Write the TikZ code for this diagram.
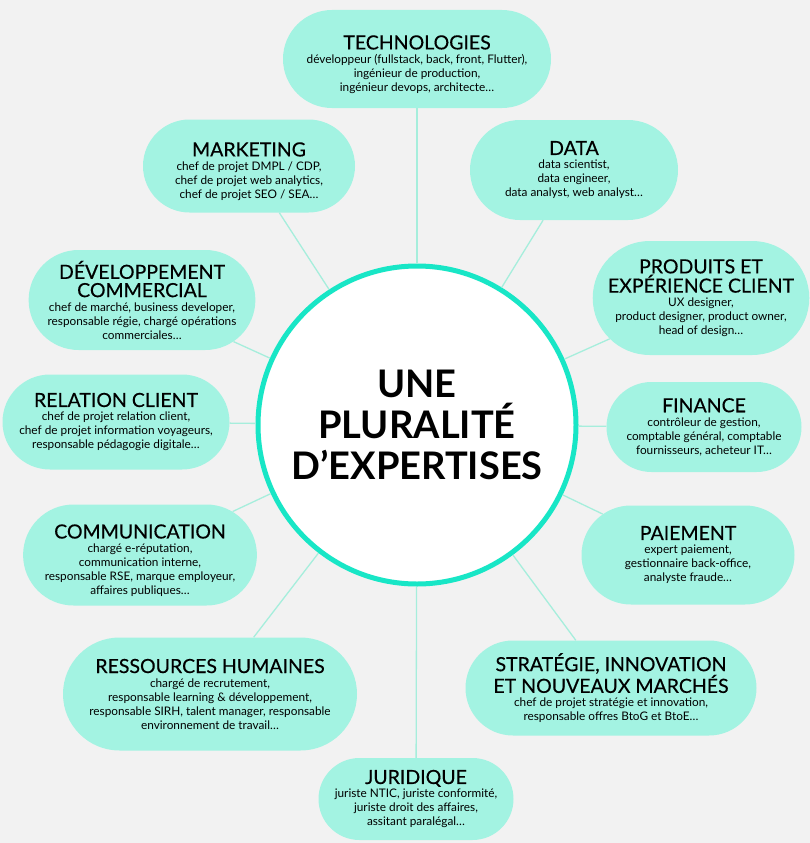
\documentclass[tikz,border=0pt]{standalone}
\usepackage{fontspec}
\setmainfont{Lato}
\newfontfamily\ttlfont[FakeBold=0.35]{Lato}
\usetikzlibrary{shapes.misc}
\definecolor{bg}{HTML}{F2F2F2}
\definecolor{mint}{HTML}{A3F3E2}
\definecolor{ring}{HTML}{18E6C6}
\definecolor{linkc}{HTML}{A6EEDC}
\newcommand\ttl[1]{{\ttlfont\fontsize{19.5}{20}\selectfont #1}}
\newcommand\upstrut{\rule{0pt}{25pt}}
\begin{document}
\begin{tikzpicture}[x=1pt,y=-1pt,
  pill/.style={rounded rectangle, fill=mint, inner sep=0pt, align=center,
    font=\fontsize{11.8}{14}\selectfont},
  linkline/.style={draw=linkc, line width=1.3pt}]
\fill[bg] (0,0) rectangle (810,843);
\useasboundingbox (0,0) rectangle (810,843);
\node[circle, draw=ring, line width=5pt, fill=white, minimum size=318pt, inner sep=0pt,
  align=center, font=\fontsize{38}{41}\selectfont\bfseries] (c) at (417,425)
  {UNE\\PLURALITÉ\\D’EXPERTISES};
\node[pill, minimum width=268pt, minimum height=98pt] (tech) at (417,59)
  {\ttl{\upstrut TECHNOLOGIES}\\développeur (fullstack, back, front, Flutter),\\ingénieur de production,\\ingénieur devops, architecte…};
\node[pill, minimum width=212pt, minimum height=93pt] (mark) at (249,166)
  {\ttl{\upstrut MARKETING}\\chef de projet DMPL / CDP,\\chef de projet web analytics,\\chef de projet SEO / SEA…};
\node[pill, minimum width=208pt, minimum height=100pt] (data) at (574,170)
  {\ttl{DATA}\\data scientist,\\data engineer,\\data analyst, web analyst…};
\node[pill, minimum width=219pt, minimum height=100pt] (dev) at (142,300)
  {\ttl{DÉVELOPPEMENT}\\[3pt]\ttl{COMMERCIAL}\\chef de marché, business developer,\\responsable régie, chargé opérations\\commerciales…};
\node[pill, minimum width=210pt, minimum height=114pt] (prod) at (701,298)
  {\ttl{PRODUITS ET}\\\ttl{EXPÉRIENCE CLIENT}\\UX designer,\\product designer, product owner,\\head of design…};
\node[pill, minimum width=227pt, minimum height=95pt] (rel) at (116,422)
  {\ttl{RELATION CLIENT}\\chef de projet relation client,\\chef de projet information voyageurs,\\responsable pédagogie digitale…};
\node[pill, minimum width=195pt, minimum height=90pt] (fin) at (704,427)
  {\ttl{FINANCE}\\contrôleur de gestion,\\comptable général, comptable\\fournisseurs, acheteur IT…};
\node[pill, minimum width=226pt, minimum height=101pt] (com) at (140,555)
  {\ttl{\upstrut COMMUNICATION}\\chargé e-réputation,\\communication interne,\\responsable RSE, marque employeur,\\affaires publiques…};
\node[pill, minimum width=213pt, minimum height=99pt] (pai) at (688,555)
  {\ttl{PAIEMENT}\\expert paiement,\\gestionnaire back-office,\\analyste fraude…};
\node[pill, minimum width=294pt, minimum height=113pt] (rh) at (210,694)
  {\ttl{RESSOURCES HUMAINES}\\chargé de recrutement,\\responsable learning \& développement,\\responsable SIRH, talent manager, responsable\\environnement de travail…};
\node[pill, minimum width=291pt, minimum height=95pt] (strat) at (611,688)
  {\ttl{STRATÉGIE, INNOVATION}\\\ttl{ET NOUVEAUX MARCHÉS}\\chef de projet stratégie et innovation,\\responsable offres BtoG et BtoE…};
\node[pill, minimum width=195pt, minimum height=82pt] (jur) at (416,799)
  {\ttl{JURIDIQUE}\\juriste NTIC, juriste conformité,\\juriste droit des affaires,\\assitant paralégal…};
\foreach \p in {tech,mark,data,dev,prod,rel,fin,com,pai,rh,strat,jur}
  \draw[linkline] (c) -- (\p);
\end{tikzpicture}
\end{document}
